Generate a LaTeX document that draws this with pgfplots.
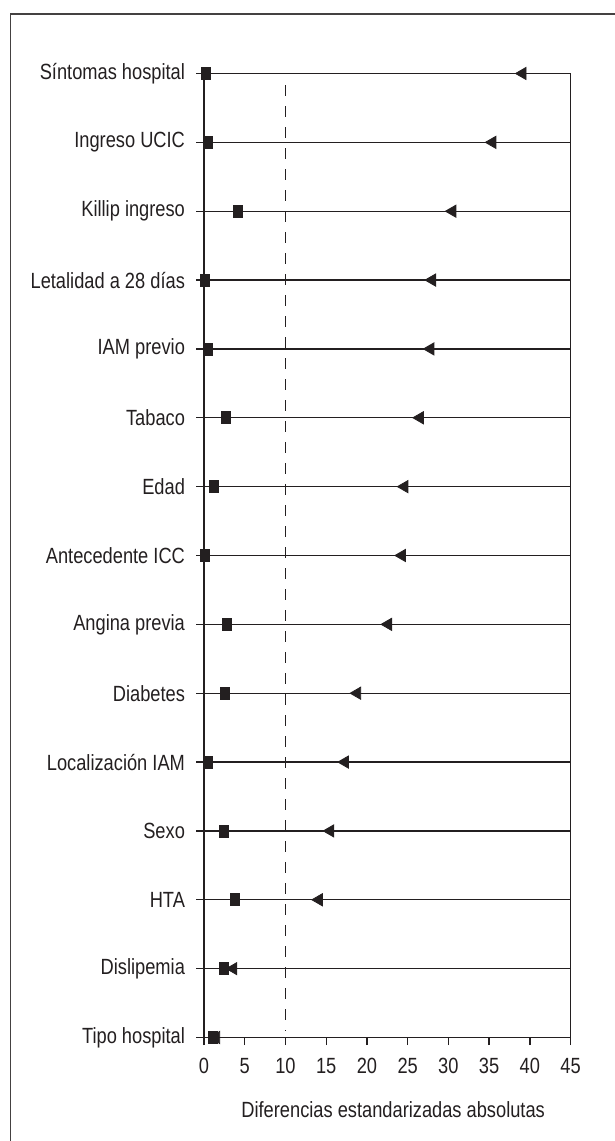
\documentclass[border=0pt]{standalone}
\usepackage{fontspec}
\setmainfont{Liberation Sans}[FakeStretch=0.83]
\usepackage{pgfplots}
\pgfplotsset{compat=1.18}
\definecolor{ink}{HTML}{231F20}
\begin{document}
\begin{tikzpicture}[x=1pt,y=1pt]
\useasboundingbox (0,0) rectangle (307.5,570.5);
\draw[line width=0.6pt, color=ink!85] (5.25,-5) -- (5.25,563.5) -- (320,563.5);
\begin{axis}[
  at={(102pt,51.75pt)}, anchor=south west,
  scale only axis, width=183.3pt, height=482pt,
  xmin=0, xmax=45, ymin=1, ymax=15,
  xtick={0,5,...,45},
  ytick={1,...,15},
  yticklabels={Tipo hospital, Dislipemia, HTA, Sexo, Localización IAM, Diabetes, Angina previa, Antecedente ICC, Edad, Tabaco, IAM previo, Letalidad a 28 días, Killip ingreso, Ingreso UCIC, Síntomas hospital},
  tick pos=left, tick align=outside, major tick length=3.8pt,
  every tick/.style={ink, line width=0.65pt},
  axis line style={ink, line width=0.65pt},
  ymajorgrids, grid style={ink, line width=0.65pt, solid},
  /pgf/number format/assume math mode=true,
  tick label style={font=\fontsize{11}{13}\selectfont, text=ink},
  xticklabel style={yshift=-3pt},
  yticklabel style={xshift=-2.2pt},
  xlabel={Diferencias estandarizadas absolutas},
  xlabel style={font=\fontsize{11}{13}\selectfont, text=ink, at={(axis description cs:0.516,0)}, anchor=base, yshift=-40.2pt},
  clip=false,
]
\addplot[ink, dashed, dash pattern=on 5.5pt off 5pt, line width=0.7pt] coordinates {(10,14.83) (10,1.1)};
\addplot[only marks, mark=triangle*, mark size=3.5pt, mark options={rotate=90, fill=ink, draw=ink}] coordinates {
(39.1,15) (35.4,14) (30.5,13) (28.0,12) (27.8,11) (26.5,10) (24.6,9) (24.3,8) (22.6,7) (18.8,6) (17.3,5) (15.5,4) (14.1,3) (3.6,2) (1.5,1)};
\addplot[only marks, mark=square*, mark size=3pt, mark options={xscale=0.75, fill=ink, draw=ink}] coordinates {
(0.2,15) (0.5,14) (4.2,13) (0.05,12) (0.5,11) (2.7,10) (1.2,9) (0.1,8) (2.8,7) (2.6,6) (0.5,5) (2.5,4) (3.8,3) (2.4,2) (1.1,1)};
\end{axis}
\end{tikzpicture}
\end{document}
